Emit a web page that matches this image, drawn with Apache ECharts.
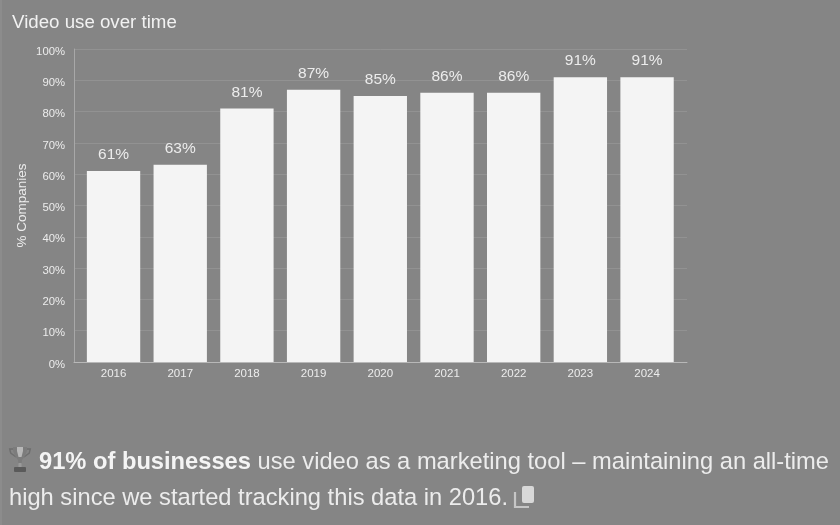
<!DOCTYPE html>
<html>
<head>
<meta charset="utf-8">
<style>
html,body{margin:0;padding:0;background:#858585;}
#chart{width:840px;height:525px;}
</style>
<script src="https://cdn.jsdelivr.net/npm/echarts@6/dist/echarts.min.js"></script>
</head>
<body>
<div id="chart"></div>
<script>
const years = ['2016','2017','2018','2019','2020','2021','2022','2023','2024'];
const companiesPct = [61,63,81,87,85,86,86,91,91];
const chartTitle = 'Video use over time';
const yAxisName = '% Companies';
const noteBold = '91% of businesses';
const noteLine1 = ' use video as a marketing tool – maintaining an all-time';
const noteLine2 = 'high since we started tracking this data in 2016.';

const FONT = '"Liberation Sans", Arial, sans-serif';
const chart = echarts.init(document.getElementById('chart'), null, {renderer:'canvas'});

chart.setOption({
  animation:false,
  backgroundColor:'#858585',
  title:{
    text:chartTitle, left:12, top:13, padding:0,
    textStyle:{color:'#f2f2f2',fontFamily:FONT,fontSize:18.7,fontWeight:'normal'}
  },
  // outer grid carries the axis frame and gridlines, inner grid insets the bars
  grid:[
    {left:74,right:153,top:49,bottom:163},
    {left:80.2,right:159.6,top:49,bottom:163}
  ],
  xAxis:[
    {gridIndex:0,type:'value',min:0,max:1,
      axisLine:{show:true,lineStyle:{color:'#b8b8b8',width:1}},
      axisTick:{show:false},axisLabel:{show:false},splitLine:{show:false}},
    {gridIndex:1,type:'category',data:years,
      axisLine:{show:false},axisTick:{show:false},
      axisLabel:{color:'#ececec',fontFamily:FONT,fontSize:11.5,margin:6}}
  ],
  yAxis:[
    {gridIndex:0,type:'value',min:0,max:100,interval:10,
      name:yAxisName,nameLocation:'middle',nameGap:45,nameRotate:90,nameMoveOverlap:false,
      nameTextStyle:{color:'#ececec',fontFamily:FONT,fontSize:13.5},
      axisLine:{show:true,lineStyle:{color:'#a8a8a8',width:1}},
      axisTick:{show:false},
      splitLine:{lineStyle:{color:'#929292',width:1}},
      axisLabel:{margin:9,formatter:'{t|{value}%}',
        rich:{t:{color:'#ececec',fontFamily:FONT,fontSize:11.3,padding:[5,0,0,0]}}}},
    {gridIndex:1,type:'value',min:0,max:100,interval:10,show:false}
  ],
  series:[{
    type:'bar',xAxisIndex:1,yAxisIndex:1,data:companiesPct,barCategoryGap:'20%',
    itemStyle:{color:'#f4f4f4'},
    label:{show:true,position:'top',distance:8,formatter:'{c}%',
      color:'#ececec',fontFamily:FONT,fontSize:15.5}
  }],
  graphic:[
    // thin lighter strip down the left edge
    {type:'rect',shape:{x:0,y:0,width:2,height:525},style:{fill:'#8c8c8c'}},
    {type:'text',x:39,y:450,style:{
      rich:{
        b:{fill:'#f4f4f4',font:'bold 23.7px '+FONT},
        r:{fill:'#ececec',font:'23.7px '+FONT}
      },
      text:'{b|'+noteBold+'}{r|'+noteLine1+'}'
    }},
    {type:'text',x:9,y:486,style:{fill:'#ececec',font:'23.7px '+FONT,text:noteLine2}},
    // trophy icon
    {type:'group',x:9,y:447,children:[
      {type:'polyline',shape:{points:[[4,2],[0.7,2],[1.7,6],[7,10]]},style:{fill:'none',stroke:'#6e6e6e',lineWidth:1.4}},
      {type:'polyline',shape:{points:[[18,2],[21.3,2],[20.3,6],[15,10]]},style:{fill:'none',stroke:'#6e6e6e',lineWidth:1.4}},
      {type:'polygon',shape:{points:[[4,0],[18,0],[18,4],[16,9],[13,13],[12.5,17],[9.5,17],[9,13],[6,9],[4,4]]},style:{fill:'#7c7c7c'}},
      {type:'polygon',shape:{points:[[8,0],[14,0],[14,4],[12.5,10],[9.5,10],[8,4]]},style:{fill:'#b8b8b8'}},
      {type:'rect',shape:{x:9.5,y:16,width:3,height:4},style:{fill:'#9a9a9a'}},
      {type:'rect',shape:{x:5,y:20,width:12,height:5,r:1},style:{fill:'#5a5a5a'}}
    ]},
    // copy icon
    {type:'group',x:513,y:486,children:[
      {type:'rect',shape:{x:9,y:0,width:12,height:17,r:2},style:{fill:'#d8d8d8'}},
      {type:'polyline',shape:{points:[[2,6],[2,21],[16,21]]},style:{fill:'none',stroke:'#c6c6c6',lineWidth:2.2}}
    ]}
  ]
});
</script>
</body>
</html>
